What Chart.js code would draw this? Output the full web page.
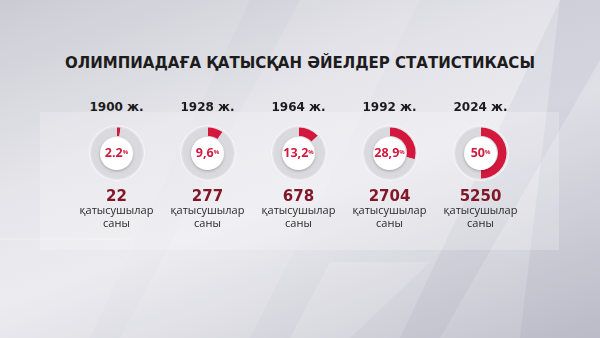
<!DOCTYPE html>
<html>
<head>
<meta charset="utf-8">
<script src="https://cdn.jsdelivr.net/npm/chart.js@4.4.1/dist/chart.umd.min.js"></script>
<style>
html,body{margin:0;padding:0;}
body{width:600px;height:338px;overflow:hidden;position:relative;
  background:linear-gradient(160deg,#c6c6d0 0%,#e2e2e8 35%,#eaeaef 55%,#d4d4dc 80%,#c2c2ce 100%);
  font-family:"DejaVu Sans",sans-serif;}
.shape{position:absolute;}
#panel{position:absolute;left:40px;top:112px;width:519px;height:138px;background:rgba(255,255,255,.22);}
#title{position:absolute;left:0;width:600px;top:53px;text-align:center;font-weight:bold;font-size:15px;color:#1c1c1c;line-height:20px;}
#row{position:absolute;left:71px;top:0;width:455px;height:338px;display:flex;}
.item{position:relative;width:91px;height:338px;}
.year{position:absolute;top:99px;width:100%;text-align:center;font-weight:bold;font-size:12px;line-height:16px;color:#1c1c1c;}
.disc{position:absolute;left:17.5px;top:125px;width:56px;height:56px;border-radius:50%;background:rgba(226,226,232,.85);box-shadow:inset 0 0 0 1px rgba(255,255,255,.7);}
.ring{position:absolute;left:15.5px;top:123px;width:60px;height:60px;}
.inner{position:absolute;left:29px;top:136.5px;width:33px;height:33px;border-radius:50%;background:#fff;box-shadow:0 1px 3px rgba(0,0,0,.25);}
.pct{position:absolute;top:145px;width:100%;text-align:center;font-family:"Open Sans",sans-serif;font-weight:bold;font-size:12.5px;line-height:16px;color:#d21a3e;}
.pct sup{font-size:6px;vertical-align:top;position:relative;top:-1px;}
.num{position:absolute;top:187.5px;width:100%;text-align:center;font-weight:bold;font-size:15px;line-height:16px;color:#801828;}
.lbl{position:absolute;width:100%;text-align:center;font-family:"Open Sans",sans-serif;font-size:11px;line-height:11px;color:#2a2a2a;}
.l1{top:204px;}
.l2{top:216.5px;}
</style>
</head>
<body>
<svg class="shape" width="600" height="338" style="left:0;top:0">
  <polygon points="0,0 250,0 90,338 0,338" fill="rgba(255,255,255,.10)"/>
  <polygon points="300,0 420,0 250,338 120,338" fill="rgba(255,255,255,.12)"/>
  <polygon points="560,0 600,0 600,60 440,338 400,338" fill="rgba(150,150,170,.12)"/>
  <polygon points="330,262 430,262 350,338 290,338" fill="rgba(255,255,255,.15)"/>
  <polygon points="560,0 600,0 600,338 520,338" fill="rgba(130,130,155,.10)"/>
  <line x1="0" y1="239" x2="130" y2="239" stroke="rgba(255,255,255,.35)" stroke-width="1"/>
</svg>
<div id="panel"></div>
<div id="title">ОЛИМПИАДАҒА ҚАТЫСҚАН ӘЙЕЛДЕР СТАТИСТИКАСЫ</div>
<div id="row"></div>
<script>
// data
const years = ["1900 ж.","1928 ж.","1964 ж.","1992 ж.","2024 ж."];
const shares = [2.2, 9.6, 13.2, 28.9, 50];
const shareLabels = ["2.2","9,6","13,2","28,9","50"];
const counts = ["22","277","678","2704","5250"];
const countLabel = ["қатысушылар","саны"];

const red = "#d4173d";
const track = "#d9d9de";

const row = document.getElementById("row");

years.forEach((year,i)=>{

    const item = document.createElement("div");
    item.className = "item";
    item.innerHTML =
        '<div class="year">'+year+'</div>'+
        '<div class="disc"></div>'+
        '<canvas class="ring" width="60" height="60"></canvas>'+
        '<div class="inner"></div>'+
        '<div class="pct">'+shareLabels[i]+'<sup>%</sup></div>'+
        '<div class="num">'+counts[i]+'</div>'+
        '<div class="lbl l1">'+countLabel[0]+'</div>'+
        '<div class="lbl l2">'+countLabel[1]+'</div>';
    row.appendChild(item);

    new Chart(item.querySelector("canvas"),{
        type:"doughnut",
        data:{
            labels:["Әйелдер","Басқа"],
            datasets:[{
                data:[shares[i],100-shares[i]],
                backgroundColor:[red,track],
                borderWidth:0,
                radius:25.5,
                cutout:20
            }]
        },
        options:{
            responsive:false,
            animation:false,
            events:[],
            plugins:{legend:{display:false},tooltip:{enabled:false}}
        }
    });

});
</script>
</body>
</html>
